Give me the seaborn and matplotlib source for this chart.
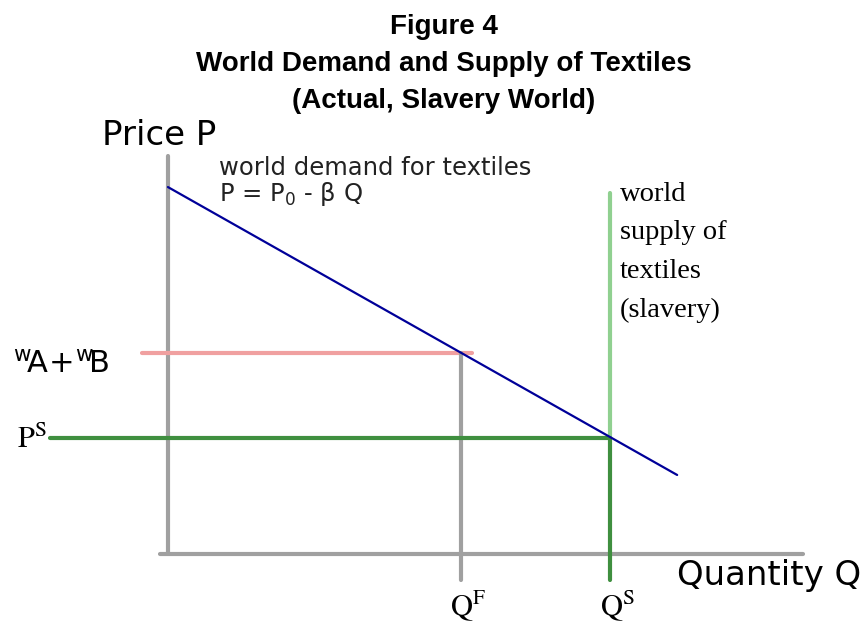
import matplotlib
matplotlib.use("Agg")
import matplotlib.pyplot as plt
import seaborn as sns

# economic values (Q = quantity, P = price)
demand_q = [0.0, 11.52]
demand_p = [8.30, 1.79]
q_free = 6.63       # Q^F
q_slave = 10.0      # Q^S
p_wages = 4.55      # w_A + w_B
p_slave = 2.62      # P^S

title_lines = ["Figure 4", "World Demand and Supply of Textiles", "(Actual, Slavery World)"]
supply_label = ["world", "supply of", "textiles", "(slavery)"]

# drawing extents of the axes / guide lines
q_axis = [-0.18, 14.36]
p_axis = [0.0, 9.0]
q_left_wage = -0.59
q_left_slave = -2.67
p_bottom = -0.59
p_supply_top = 8.17

sns.set_theme(style="white")
plt.rcParams["font.family"] = ["DejaVu Sans"]
plt.rcParams["text.color"] = "black"

fig = plt.figure(figsize=(8.65, 6.24), dpi=100)
ax = fig.add_axes([0, 0, 1, 1])
ax.set_xlim(-3.80, 15.77)
ax.set_ylim(-1.58, 12.53)
ax.set_axis_off()

gray = "#a0a0a0"
lw = 3.0

def seg(xs, ys, color, width):
    sns.lineplot(x=xs, y=ys, color=color, linewidth=width, ax=ax,
                 sort=False, estimator=None, legend=False)

# axes of the diagram
seg([0, 0], p_axis, gray, lw)
seg(q_axis, [0, 0], gray, lw)

# wage line and free-labour quantity
seg([q_left_wage, q_free + 0.25], [p_wages, p_wages], "#f0a0a0", lw)
seg([q_free, q_free], [p_wages, p_bottom], gray, lw)

# slavery price and supply
seg([q_left_slave, q_slave], [p_slave, p_slave], "#3f8f3f", lw)
seg([q_slave, q_slave], [p_slave, p_supply_top], "#90d090", lw)
seg([q_slave, q_slave], [p_bottom, p_slave], "#3f8f3f", lw)

# world demand
seg(demand_q, demand_p, "#000099", 1.6)

# texts
fig.text(0.513, 0.978, "\n".join(title_lines), ha="center", va="top",
         family="Liberation Sans", weight="bold", fontsize=20, linespacing=1.55)

ax.text(-1.49, 9.25, "Price P", fontsize=24.5, ha="left", va="baseline")
ax.text(11.52, -0.70, "Quantity Q", fontsize=24.5, ha="left", va="baseline")

ax.text(1.15, 8.57, "world demand for textiles", fontsize=17.5,
        color="#222222", ha="left", va="baseline")
ax.text(1.15, 7.99, r"P = P$_0$ - β Q", fontsize=17.5,
        color="#222222", ha="left", va="baseline")

ax.text(q_slave + 0.23, 8.42, "\n".join(supply_label), family="Liberation Serif",
        fontsize=20.5, ha="left", va="top", linespacing=1.72)

ax.text(-3.51, p_wages - 0.45, r"$\mathsf{{}^{w}\!A\!+\!{}^{w}\!B}$", fontsize=22,
        ha="left", va="baseline")
ax.text(-3.42, p_slave - 0.22, r"$\mathrm{P^S}$", fontsize=22,
        math_fontfamily="stix", ha="left", va="baseline")
ax.text(q_free - 0.25, -1.38, r"$\mathrm{Q^F}$", fontsize=22,
        math_fontfamily="stix", ha="left", va="baseline")
ax.text(q_slave - 0.23, -1.38, r"$\mathrm{Q^S}$", fontsize=22,
        math_fontfamily="stix", ha="left", va="baseline")

fig.savefig("out.png", dpi=100)
